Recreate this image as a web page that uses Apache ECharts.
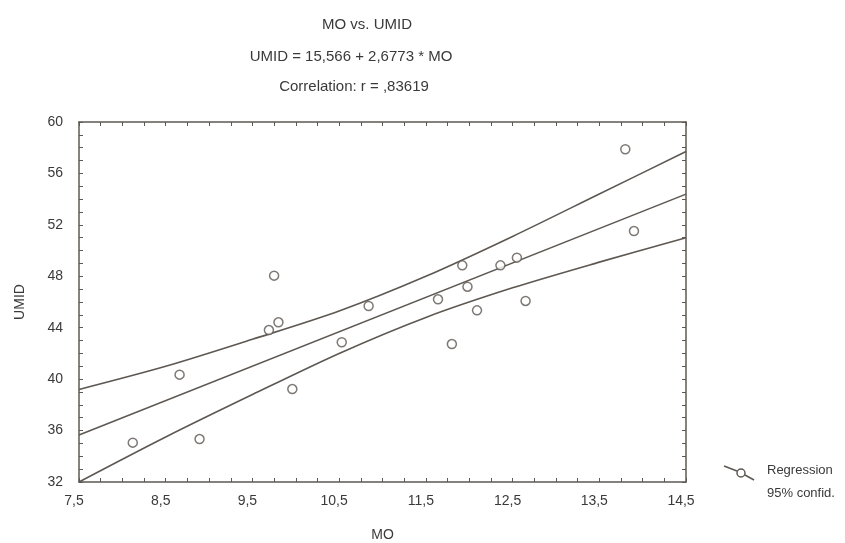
<!DOCTYPE html>
<html>
<head>
<meta charset="utf-8">
<script src="https://cdn.jsdelivr.net/npm/echarts@6/dist/echarts.min.js"></script>
<style>
html,body{margin:0;padding:0;background:#fff;}
#chart{width:845px;height:543px;}
</style>
</head>
<body>
<div id="chart"></div>
<script>
// Observed points
const moVals   = [8.12, 8.66, 8.89, 9.69, 9.80, 9.96, 10.53, 10.84, 9.75, 11.64, 11.80, 12.09, 12.65, 11.92, 11.98, 12.36, 12.55, 13.80, 13.90];
const umidVals = [35.06, 40.35, 35.34, 43.82, 44.42, 39.23, 42.87, 45.69, 48.05, 46.21, 42.73, 45.35, 46.08, 48.85, 47.19, 48.85, 49.45, 57.88, 51.52];

// Regression line end points (UMID = 15,566 + 2,6773 * MO)
const regX = [7.5, 14.5];
const regY = [35.65, 54.39];

// 95% confidence band
const bandX     = [7.5, 8.5, 9.5, 10.5, 11.5, 12.5, 13.5, 14.5];
const bandUpper = [39.2, 41.0, 43.1, 45.3, 48.0, 51.1, 54.4, 57.7];
const bandLower = [32.0, 35.5, 38.8, 42.0, 44.8, 47.1, 49.1, 51.0];

const titleLines = ['MO vs. UMID', 'UMID = 15,566 + 2,6773 * MO', 'Correlation: r = ,83619'];
const legendLabels = ['Regression', '95% confid.'];

const ink = '#5e5853';
const txt = '#3a3a3a';
const FONT = 'Liberation Sans, Arial, sans-serif';

const zip = (a, b) => a.map((v, i) => [v, b[i]]);

const chart = echarts.init(document.getElementById('chart'), null, {renderer: 'canvas'});

const xFmt = v => {
  const r = Math.round(v * 2) % 2;
  return r === 1 ? v.toFixed(1).replace('.', ',') : '';
};

const baseX = {
  type: 'value', min: 7.5, max: 14.5, interval: 0.5,
  axisLine: {show: true, onZero: false, lineStyle: {color: ink, width: 1.5}},
  axisTick: {show: true, inside: true, length: 4, lineStyle: {color: ink, width: 1}},
  minorTick: {show: true, splitNumber: 2, length: 4, lineStyle: {color: ink, width: 1}},
  splitLine: {show: false}
};
const baseY = {
  type: 'value', min: 32, max: 60, interval: 4,
  axisLine: {show: true, onZero: false, lineStyle: {color: ink, width: 1.5}},
  axisTick: {show: true, inside: true, length: 4, lineStyle: {color: ink, width: 1}},
  minorTick: {show: true, splitNumber: 4, length: 4, lineStyle: {color: ink, width: 1}},
  splitLine: {show: false}
};

const titleStyle = t => ({text: t, fill: txt, font: '15px ' + FONT, textAlign: 'center', textVerticalAlign: 'middle'});

const option = {
  backgroundColor: '#fff',
  animation: false,
  textStyle: {fontFamily: FONT},
  grid: {left: 79, top: 122, width: 607, height: 360, containLabel: false, outerBoundsMode: 'none'},
  xAxis: [
    Object.assign({}, baseX, {
      position: 'bottom',
      name: 'MO', nameLocation: 'middle', nameGap: 46,
      nameTextStyle: {color: txt, fontSize: 14, fontFamily: FONT},
      axisLabel: {color: txt, fontSize: 14, fontFamily: FONT, margin: 12, padding: [0, 10, 0, 0], formatter: xFmt}
    }),
    Object.assign({}, baseX, {position: 'top', axisLabel: {show: false}})
  ],
  yAxis: [
    Object.assign({}, baseY, {
      position: 'left',
      name: 'UMID', nameLocation: 'middle', nameGap: 52,
      nameTextStyle: {color: txt, fontSize: 14, fontFamily: FONT},
      axisLabel: {color: txt, fontSize: 14, fontFamily: FONT, margin: 16}
    }),
    Object.assign({}, baseY, {position: 'right', axisLabel: {show: false}})
  ],
  series: [
    {
      type: 'line', name: '95% confid. upper', data: zip(bandX, bandUpper),
      smooth: 0.3, symbol: 'none', lineStyle: {color: ink, width: 1.6}, z: 2
    },
    {
      type: 'line', name: '95% confid. lower', data: zip(bandX, bandLower),
      smooth: 0.3, symbol: 'none', lineStyle: {color: ink, width: 1.6}, z: 2
    },
    {
      type: 'line', name: 'Regression', data: zip(regX, regY),
      symbol: 'none', lineStyle: {color: ink, width: 1.6}, z: 2
    },
    {
      type: 'scatter', name: 'UMID', data: zip(moVals, umidVals),
      symbol: 'circle', symbolSize: 9,
      itemStyle: {color: '#fff', borderColor: ink, borderWidth: 1.5}, z: 3
    }
  ],
  graphic: [
    {type: 'text', x: 367, y: 25, style: titleStyle(titleLines[0])},
    {type: 'text', x: 351, y: 57, style: titleStyle(titleLines[1])},
    {type: 'text', x: 354, y: 87, style: titleStyle(titleLines[2])},
    {type: 'polyline', shape: {points: [[724, 466], [737, 471]]}, style: {stroke: ink, lineWidth: 1.6}},
    {type: 'circle', shape: {cx: 741, cy: 473, r: 4}, style: {fill: '#fff', stroke: ink, lineWidth: 1.5}},
    {type: 'polyline', shape: {points: [[745, 475], [754, 480]]}, style: {stroke: ink, lineWidth: 1.6}},
    {type: 'text', left: 767, top: 464, style: {text: legendLabels[0], fill: txt, font: '13px ' + FONT}},
    {type: 'text', left: 767, top: 487, style: {text: legendLabels[1], fill: txt, font: '13px ' + FONT}}
  ]
};
chart.setOption(option);
</script>
</body>
</html>
